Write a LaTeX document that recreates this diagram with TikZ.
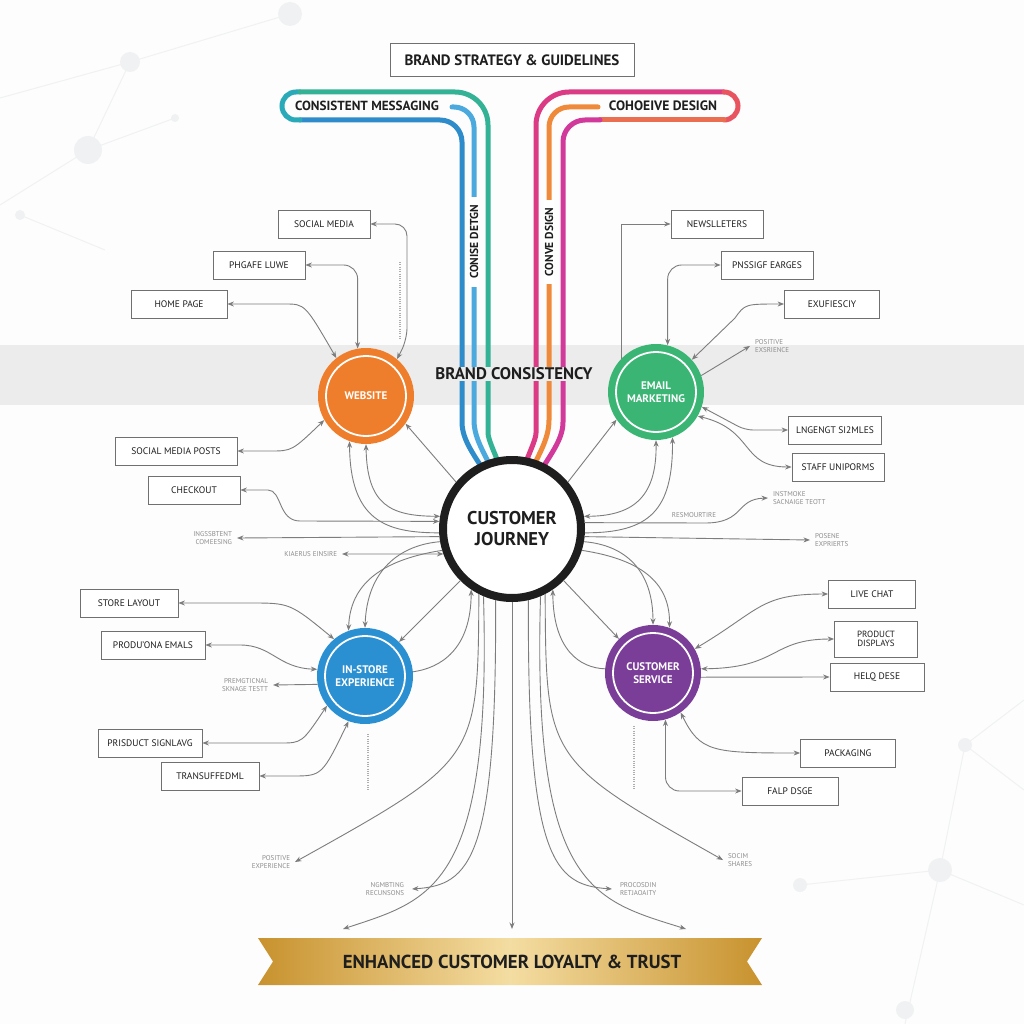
\documentclass[tikz,border=0pt]{standalone}
\usepackage{fontspec}
\setmainfont{PT Sans}
\usetikzlibrary{arrows.meta}
\definecolor{paper}{RGB}{253,253,253}
\definecolor{mist}{RGB}{240,241,242}
\definecolor{band}{RGB}{236,236,236}
\definecolor{ink}{RGB}{30,30,30}
\definecolor{linegray}{RGB}{125,125,125}
\definecolor{boxgray}{RGB}{112,112,112}
\definecolor{labelgray}{RGB}{140,140,140}
\definecolor{webOrange}{RGB}{238,126,44}
\definecolor{mailGreen}{RGB}{58,181,116}
\definecolor{storeBlue}{RGB}{42,144,210}
\definecolor{servicePurple}{RGB}{122,61,152}
\definecolor{msgBlue}{RGB}{46,140,203}
\definecolor{msgTeal}{RGB}{42,170,184}
\definecolor{msgGreen}{RGB}{52,178,150}
\definecolor{msgLight}{RGB}{75,169,222}
\definecolor{desPink}{RGB}{219,58,132}
\definecolor{desRed}{RGB}{232,84,95}
\definecolor{desCoral}{RGB}{236,110,80}
\definecolor{desOrange}{RGB}{239,138,59}
\definecolor{desMagenta}{RGB}{209,57,154}
\definecolor{goldA}{RGB}{200,146,46}
\definecolor{goldB}{RGB}{244,221,162}

\begin{document}
\begin{tikzpicture}[
x=1pt, y=-1pt,
tag/.style={draw=boxgray, line width=0.8pt, fill=white, minimum width=92pt, minimum height=28pt, inner sep=2pt, align=center, text=ink, font=\fontsize{9.5}{10.5}\selectfont},
note/.style={inner sep=2pt, outer sep=3pt, text=labelgray, font=\fontsize{7}{7.6}\selectfont},
hub/.style={circle, minimum size=96pt, inner sep=0pt, align=center, text=white, font=\bfseries\fontsize{11}{12.5}\selectfont,
  path picture={\draw[white, line width=1.8pt] (path picture bounding box.center) circle[radius=40pt];}},
strand/.style={line width=5pt, line cap=round},
vlabel/.style={fill=white, rotate=90, inner xsep=8pt, inner ysep=1pt, text=ink, font=\bfseries\fontsize{11.5}{12}\selectfont},
arr/.style={draw=linegray, line width=0.9pt, -{Stealth[length=6.5pt,width=5pt]}},
biarr/.style={draw=linegray, line width=0.9pt, {Stealth[length=6.5pt,width=5pt]}-{Stealth[length=6.5pt,width=5pt]}},
tick/.style={labelgray!70, line width=2.5pt, dash pattern=on 1pt off 1.3pt}
]
\useasboundingbox (0,0) rectangle (1024,1024);
\fill[paper] (0,0) rectangle (1024,1024);

% faint network in the corners
\begin{scope}[draw=mist, fill=mist, line width=1pt]
\draw (0,98) -- (130,62) -- (290,14) (130,62) -- (88,150) -- (0,205) (88,150) -- (175,118) (20,215) -- (105,250);
\fill (130,62) circle[radius=10pt] (88,150) circle[radius=14pt] (290,14) circle[radius=12pt] (20,215) circle[radius=5pt] (175,118) circle[radius=4pt];
\draw (1024,700) -- (965,745) -- (1024,790) (965,745) -- (940,870) -- (800,885) (940,870) -- (1024,905) (940,870) -- (905,1024);
\fill (965,745) circle[radius=7pt] (940,870) circle[radius=12pt] (800,885) circle[radius=7pt] (905,1010) circle[radius=9pt];
\end{scope}

\fill[band] (0,345) rectangle (1024,405);

% messaging strands
\draw[strand, msgBlue, rounded corners=22pt] (490,480) .. controls (474,455) and (462,440) .. (462,400) -- (462,120) -- (300,120);
\draw[strand, msgTeal, rounded corners=14pt] (300,120) -- (282,120) -- (282,92) -- (300,92);
\draw[strand, msgGreen, rounded corners=33pt] (300,92) -- (488,92) -- (488,400) .. controls (488,440) and (496,455) .. (505,480);
\draw[strand, msgLight, rounded corners=20pt] (452,107) -- (474,107) -- (474,400) .. controls (474,440) and (486,455) .. (497,480);

% design strands
\draw[strand, desPink, rounded corners=33pt] (519,480) .. controls (528,455) and (536,440) .. (536,400) -- (536,92) -- (724,92);
\draw[strand, desRed, rounded corners=14pt] (724,92) -- (738,92) -- (738,120) -- (724,120);
\draw[strand, desCoral] (724,120) -- (600,120);
\draw[strand, desMagenta, rounded corners=22pt] (600,120) -- (563,120) -- (563,400) .. controls (563,440) and (550,455) .. (535,480);
\draw[strand, desOrange, rounded corners=20pt] (598,107) -- (549,107) -- (549,400) .. controls (549,440) and (538,455) .. (527,480);

\node[draw=boxgray, line width=0.9pt, fill=white, minimum width=244pt, minimum height=33pt, text=ink, font=\bfseries\fontsize{15}{16}\selectfont] (brand) at (512,60) {BRAND STRATEGY \& GUIDELINES};
\node[text=ink, font=\bfseries\fontsize{13.2}{14}\selectfont] (msg) at (367,106) {CONSISTENT MESSAGING};
\node[text=ink, font=\bfseries\fontsize{13.6}{14}\selectfont] (cohe) at (663,106) {COHOEIVE DESIGN};
\node[vlabel] (cdetgn) at (474,242) {CONISE DETGN};
\node[vlabel] (cdsign) at (549,242) {CONVE DSIGN};
\node[fill=band, inner xsep=4pt, inner ysep=1pt, text=ink, font=\bfseries\fontsize{16.8}{18}\selectfont] (bcons) at (514,374) {BRAND CONSISTENCY};

\node[circle, draw=ink, line width=8pt, fill=white, minimum size=138pt, inner sep=0pt, align=center, text=ink, font=\bfseries\fontsize{18.5}{21}\selectfont] (CJ) at (512,529) {CUSTOMER\\JOURNEY};

\node[hub, fill=webOrange] (W) at (366,396) {WEBSITE};
\node[hub, fill=mailGreen] (E) at (656,392) {EMAIL\\MARKETING};
\node[hub, fill=storeBlue] (IS) at (365,676) {IN-STORE\\EXPERIENCE};
\node[hub, fill=servicePurple] (CS) at (653,673) {CUSTOMER\\SERVICE};

\node[tag] (smedia) at (324,224) {SOCIAL MEDIA};
\node[tag] (phgafe) at (259,265) {PHGAFE LUWE};
\node[tag, minimum width=96pt] (home) at (179,304) {HOME PAGE};
\node[tag, minimum width=122pt] (smposts) at (176,451) {SOCIAL MEDIA POSTS};
\node[tag] (checkout) at (194,490) {CHECKOUT};
\node[tag] (newsl) at (717,224) {NEWSLLETERS};
\node[tag] (pnssig) at (767,265) {PNSSIGF EARGES};
\node[tag, minimum width=95pt] (exuf) at (832,304) {EXUFIESCIY};
\node[tag, minimum width=93pt] (lngen) at (835,430) {LNGENGT SI2MLES};
\node[tag] (staff) at (838,467) {STAFF UNIPORMS};
\node[tag, minimum width=98pt] (storelay) at (129,603) {STORE LAYOUT};
\node[tag, minimum width=104pt] (produ) at (153,645) {PRODU'ONA EMALS};
\node[tag, minimum width=104pt] (prisduct) at (150,743) {PRISDUCT SIGNLAVG};
\node[tag, minimum width=98pt] (transu) at (210,776) {TRANSUFFEDML};
\node[tag, minimum width=87pt] (livechat) at (872,594) {LIVE CHAT};
\node[tag, minimum width=83pt, minimum height=36pt, font=\fontsize{9}{9.5}\selectfont] (proddisp) at (876,639) {PRODUCT\\DISPLAYS};
\node[tag, minimum width=94pt] (helq) at (877,677) {HELQ DESE};
\node[tag, minimum width=95pt] (packaging) at (848,753) {PACKAGING};
\node[tag, minimum width=96pt] (falp) at (790,791) {FALP DSGE};

\node[note, anchor=west, align=left] (posexp1) at (750,346) {POSITIVE\\EXSRIENCE};
\node[note, anchor=west, align=left] (instm) at (768,498) {INSTMOKE\\SACNAIGE TEOTT};
\node[note, outer sep=0pt] (resm) at (694,515) {RESMOURTIRE};
\node[note, anchor=west, align=left] (posene) at (810,540) {POSENE\\EXPRIERTS};
\node[note, anchor=east, align=right] (ingss) at (237,538) {INGSSBTENT\\COMEESING};
\node[note, anchor=east] (kiaer) at (342,554) {KIAERUS EINSIRE};
\node[note, anchor=east, align=right] (premg) at (273,685) {PREMGTICNAL\\SKNAGE TESTT};
\node[note, anchor=east, align=right] (posexp2) at (295,862) {POSITIVE\\EXPERIENCE};
\node[note, anchor=east, align=right, outer sep=6pt] (ngmb) at (412,889) {NGMBTING\\RECUNSONS};
\node[note, anchor=west, align=left, outer sep=6pt] (procos) at (612,889) {PROCOSDIN\\RETJAOAITY};
\node[note, anchor=west, align=left] (socim) at (723,860) {SOCIM\\SHARES};

\coordinate (t1) at (343,929);
\coordinate (t2) at (512,929);
\coordinate (t3) at (686,929);

% website links
\draw[biarr, rounded corners=12pt] (smedia.east) -| (407,340) -- (W.50);
\draw[biarr, rounded corners=14pt] (phgafe.east) -| (W.100);
\draw[biarr] (home.east) -- (285,304) .. controls (305,304) .. (W.128);
\draw[biarr] (smposts.east) -- (270,451) .. controls (292,451) .. (W.210);
\draw[biarr] (checkout.east) -- (268,490) .. controls (282,490) and (278,521) .. (300,521) -- (CJ.174);
\draw[biarr] (W.270) .. controls (367,505) and (390,516) .. (CJ.170);
\draw[arr] (CJ.183) .. controls (385,533) and (350,520) .. (W.250);
\draw[arr] (CJ.140) -- (W.325);
\draw[arr] (CJ.186) -- (ingss.east);
\draw[biarr] (kiaer.east) -- (CJ.200);

% email links
\draw[arr] (E.136) |- (newsl.west);
\draw[biarr, rounded corners=14pt] (E.76) |- (pnssig.west);
\draw[biarr] (E.42) -- (735,318) .. controls (745,304) .. (exuf.west);
\draw[arr] (E.20) -- (posexp1.west);
\draw[biarr, rounded corners=8pt] (E.342) -- (745,430) -- (lngen.west);
\draw[biarr] (E.330) .. controls (755,430) and (740,467) .. (staff.west);
\draw[biarr] (CJ.10) .. controls (630,516) and (657,500) .. (E.270);
\draw[arr] (CJ.357) .. controls (650,533) and (673,510) .. (E.290);
\draw[arr] (CJ.40) -- (E.215);
\draw[arr] (CJ.5) -- (705,523) .. controls (745,523) and (735,499) .. (instm.west);
\draw[arr] (CJ.354) -- (posene.west);

% in-store links
\draw[arr] (CJ.190) .. controls (400,545) and (367,570) .. (IS.90);
\draw[arr] (CJ.197) .. controls (380,560) and (350,585) .. (IS.110);
\draw[arr] (CJ.225) -- (IS.45);
\draw[arr] (IS.5) .. controls (440,668) and (471,650) .. (CJ.236);
\draw[biarr] (storelay.east) -- (250,603) .. controls (290,603) .. (IS.130);
\draw[biarr] (produ.east) -- (240,645) .. controls (272,645) and (278,668) .. (IS.172);
\draw[arr] (IS.190) -- (premg.east);
\draw[biarr] (prisduct.east) -- (280,743) .. controls (302,743) .. (IS.218);
\draw[biarr] (transu.east) -- (292,776) .. controls (322,776) .. (IS.250);

% customer service links
\draw[arr] (CJ.350) .. controls (625,545) and (653,570) .. (CS.90);
\draw[arr] (CJ.343) .. controls (645,560) and (670,585) .. (CS.70);
\draw[arr] (CJ.315) -- (CS.135);
\draw[arr] (CS.175) .. controls (580,668) and (553,650) .. (CJ.304);
\draw[biarr] (CS.30) .. controls (760,610) and (760,594) .. (livechat.west);
\draw[biarr] (CS.5) .. controls (780,668) and (770,639) .. (proddisp.west);
\draw[arr] (CS.355) -- (helq.west);
\draw[biarr] (CS.305) .. controls (700,752) and (712,753) .. (packaging.west);
\draw[biarr, rounded corners=14pt] (CS.285) |- (falp.west);

% fan towards the ribbon
\draw[arr] (CJ.243) .. controls (478,760) .. (posexp2.east);
\draw[arr] (CJ.247) .. controls (492,890) and (430,900) .. (t1);
\draw[arr] (CJ.257) .. controls (497,860) and (470,885) .. (ngmb.east);
\draw[arr] (CJ.south) -- (t2);
\draw[arr] (CJ.283) .. controls (527,860) and (554,885) .. (procos.west);
\draw[arr] (CJ.293) .. controls (532,890) and (594,900) .. (t3);
\draw[arr] (CJ.297) .. controls (546,760) .. (socim.west);

\draw[tick] (400,262) -- (400,338);
\draw[tick] (368,734) -- (368,790);
\draw[tick] (634,726) -- (634,790);

% ribbon
\shade[left color=goldA, right color=goldA, middle color=goldB] (258,938) -- (762,938) -- (747,961.5) -- (762,985) -- (258,985) -- (273,961.5) -- cycle;
\node[text=ink, font=\bfseries\fontsize{18.8}{20}\selectfont] (loyal) at (512,962) {ENHANCED CUSTOMER LOYALTY \& TRUST};
\end{tikzpicture}
\end{document}
